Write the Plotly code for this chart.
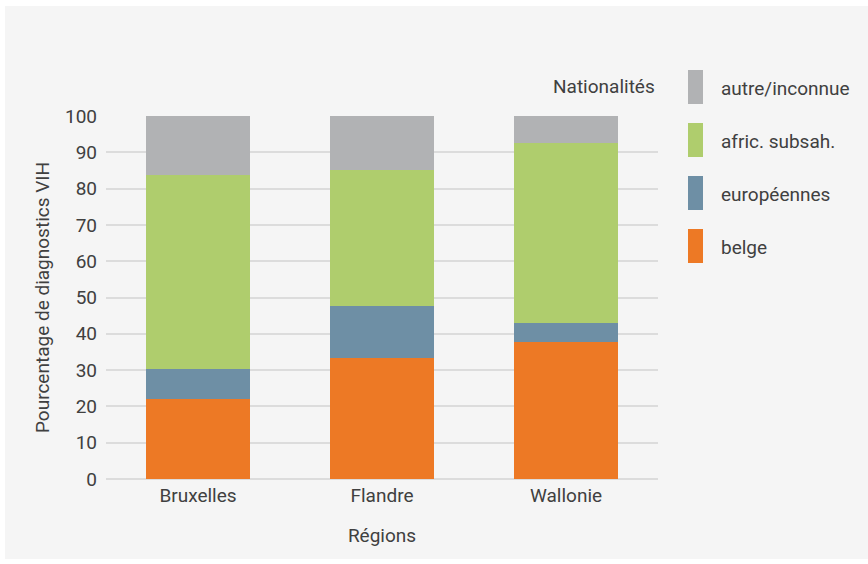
import plotly.graph_objects as go

# Data: share of HIV diagnoses by nationality group, per region (%)
regions = ["Bruxelles", "Flandre", "Wallonie"]
belge = [22.0, 33.4, 37.8]
europeennes = [8.3, 14.2, 5.2]
afric_subsah = [53.4, 37.6, 49.6]
autre_inconnue = [16.3, 14.8, 7.4]

series_names = ["belge", "européennes", "afric. subsah.", "autre/inconnue"]
series_values = [belge, europeennes, afric_subsah, autre_inconnue]
series_colors = ["#ed7925", "#6e8fa5", "#afcd6d", "#b1b2b4"]

y_ticks = list(range(0, 101, 10))

FONT = "Roboto, sans-serif"
TEXT = "#404040"
FS = 19

W, H = 868, 564
L, R, T, B = 106, 210, 116, 85
pw, ph = W - L - R, H - T - B


def px_x(px):
    return (px - L) / pw


def px_y(py):
    return (H - B - py) / ph


fig = go.Figure()
for name, vals, col in zip(series_names, series_values, series_colors):
    fig.add_trace(go.Bar(x=regions, y=vals, name=name, marker_color=col,
                         marker_line_width=0, showlegend=False))

shapes = [
    # light panel behind the chart
    dict(type="rect", xref="paper", yref="paper", layer="below",
         x0=px_x(5), x1=px_x(868), y0=px_y(559), y1=px_y(6),
         fillcolor="#f5f5f5", line_width=0),
]
annotations = [
    dict(text="Nationalités", xref="paper", yref="paper", x=px_x(657), y=px_y(87),
         xanchor="right", yanchor="middle", showarrow=False,
         font=dict(family=FONT, size=FS, color=TEXT)),
]

# legend, top entry is the top stack segment
legend_centers = [87, 140, 193, 246]
for i, (name, col) in enumerate(zip(series_names[::-1], series_colors[::-1])):
    cy = legend_centers[i]
    shapes.append(dict(type="rect", xref="paper", yref="paper",
                       x0=px_x(688), x1=px_x(703), y0=px_y(cy + 17), y1=px_y(cy - 17),
                       fillcolor=col, line_width=0))
    annotations.append(dict(text=name, xref="paper", yref="paper",
                            x=px_x(719), y=px_y(cy + 1), xanchor="left", yanchor="middle",
                            showarrow=False, font=dict(family=FONT, size=FS, color=TEXT)))

fig.update_layout(
    barmode="stack",
    bargap=0.44,
    width=W, height=H,
    margin=dict(l=L, r=R, t=T, b=B, autoexpand=False),
    paper_bgcolor="white",
    plot_bgcolor="rgba(0,0,0,0)",
    font=dict(family=FONT, size=FS, color=TEXT),
    shapes=shapes,
    annotations=annotations,
    xaxis=dict(
        title=dict(text="Régions", standoff=22, font=dict(size=FS, color=TEXT)),
        showgrid=False, zeroline=False, showline=False, ticks="",
        ticklabelstandoff=3,
        tickfont=dict(size=FS, color=TEXT),
    ),
    yaxis=dict(
        title=dict(text="Pourcentage de diagnostics VIH", standoff=10,
                   font=dict(size=FS, color=TEXT)),
        range=[0, 100], tickvals=y_ticks, ticktext=[str(v) for v in y_ticks],
        showgrid=True, gridcolor="#dcdcdc", gridwidth=1.8,
        zeroline=True, zerolinecolor="#dcdcdc", zerolinewidth=1.8,
        showline=False, ticks="", ticklabelstandoff=8,
        tickfont=dict(size=FS, color=TEXT),
    ),
)

fig.write_html("out.html")
